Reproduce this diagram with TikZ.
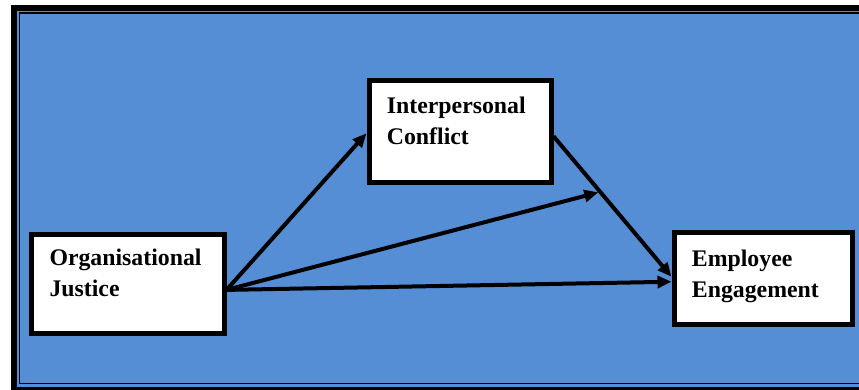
\documentclass[tikz,border=0pt]{standalone}
\usepackage{fontspec}
\setmainfont{Liberation Serif}
\usetikzlibrary{arrows.meta,calc}
\definecolor{bgblue}{HTML}{558ED5}
\begin{document}
\begin{tikzpicture}[x=1pt,y=-1pt,
  box/.style={draw=black, line width=5pt, fill=white, rectangle, inner sep=0pt},
  lbl/.style={anchor=base west, align=left, inner sep=0pt, font=\fontsize{23.8}{31}\selectfont\bfseries},
  conn/.style={line width=4pt, -{Triangle[length=14pt,width=12pt]}}]
\useasboundingbox (0,0) rectangle (859,390);
\clip (0,0) rectangle (859,390);
\fill[white] (0,0) rectangle (859,390);
% frame
\fill[black] (11,5) rectangle (900,420);
\fill[bgblue] (17,11) rectangle (880,387);
\draw[black, line width=1.5pt] (19.5,13) rectangle (870,383.7);
% boxes
\node[box, minimum width=192.5pt, minimum height=98.2pt] (oj) at (127.75,283.9) {};
\node[box, minimum width=182pt, minimum height=101.5pt] (ic) at (460,131.75) {};
\node[box, minimum width=178.5pt, minimum height=91.5pt] (ee) at (763.25,278.25) {};
% labels (anchor = baseline of last line)
\node[lbl] (ojt) at (49.3,296.5) {Organisational\\Justice};
\node[lbl] (ict) at (386.7,144.3) {Interpersonal\\Conflict};
\node[lbl] (eet) at (691.7,297) {Employee\\Engagement};
% connector points
\coordinate (ojout) at ([yshift=-6pt]oj.east);
\coordinate (icin) at ([yshift=-1.5pt]ic.west);
\coordinate (icout) at ([yshift=-4.5pt]ic.east);
\coordinate (eein1) at ([yshift=1.5pt]ee.west);
\coordinate (eein2) at ([yshift=-3.5pt]ee.west);
\coordinate (mid) at ($(icout)!0.396!(eein1)$);
% connectors
\draw[conn] (ojout) -- (icin);
\draw[conn, shorten >=2pt] (ojout) -- (mid);
\draw[conn] (ojout) -- (eein2);
\draw[conn] (icout) -- (eein1);
\end{tikzpicture}
\end{document}
